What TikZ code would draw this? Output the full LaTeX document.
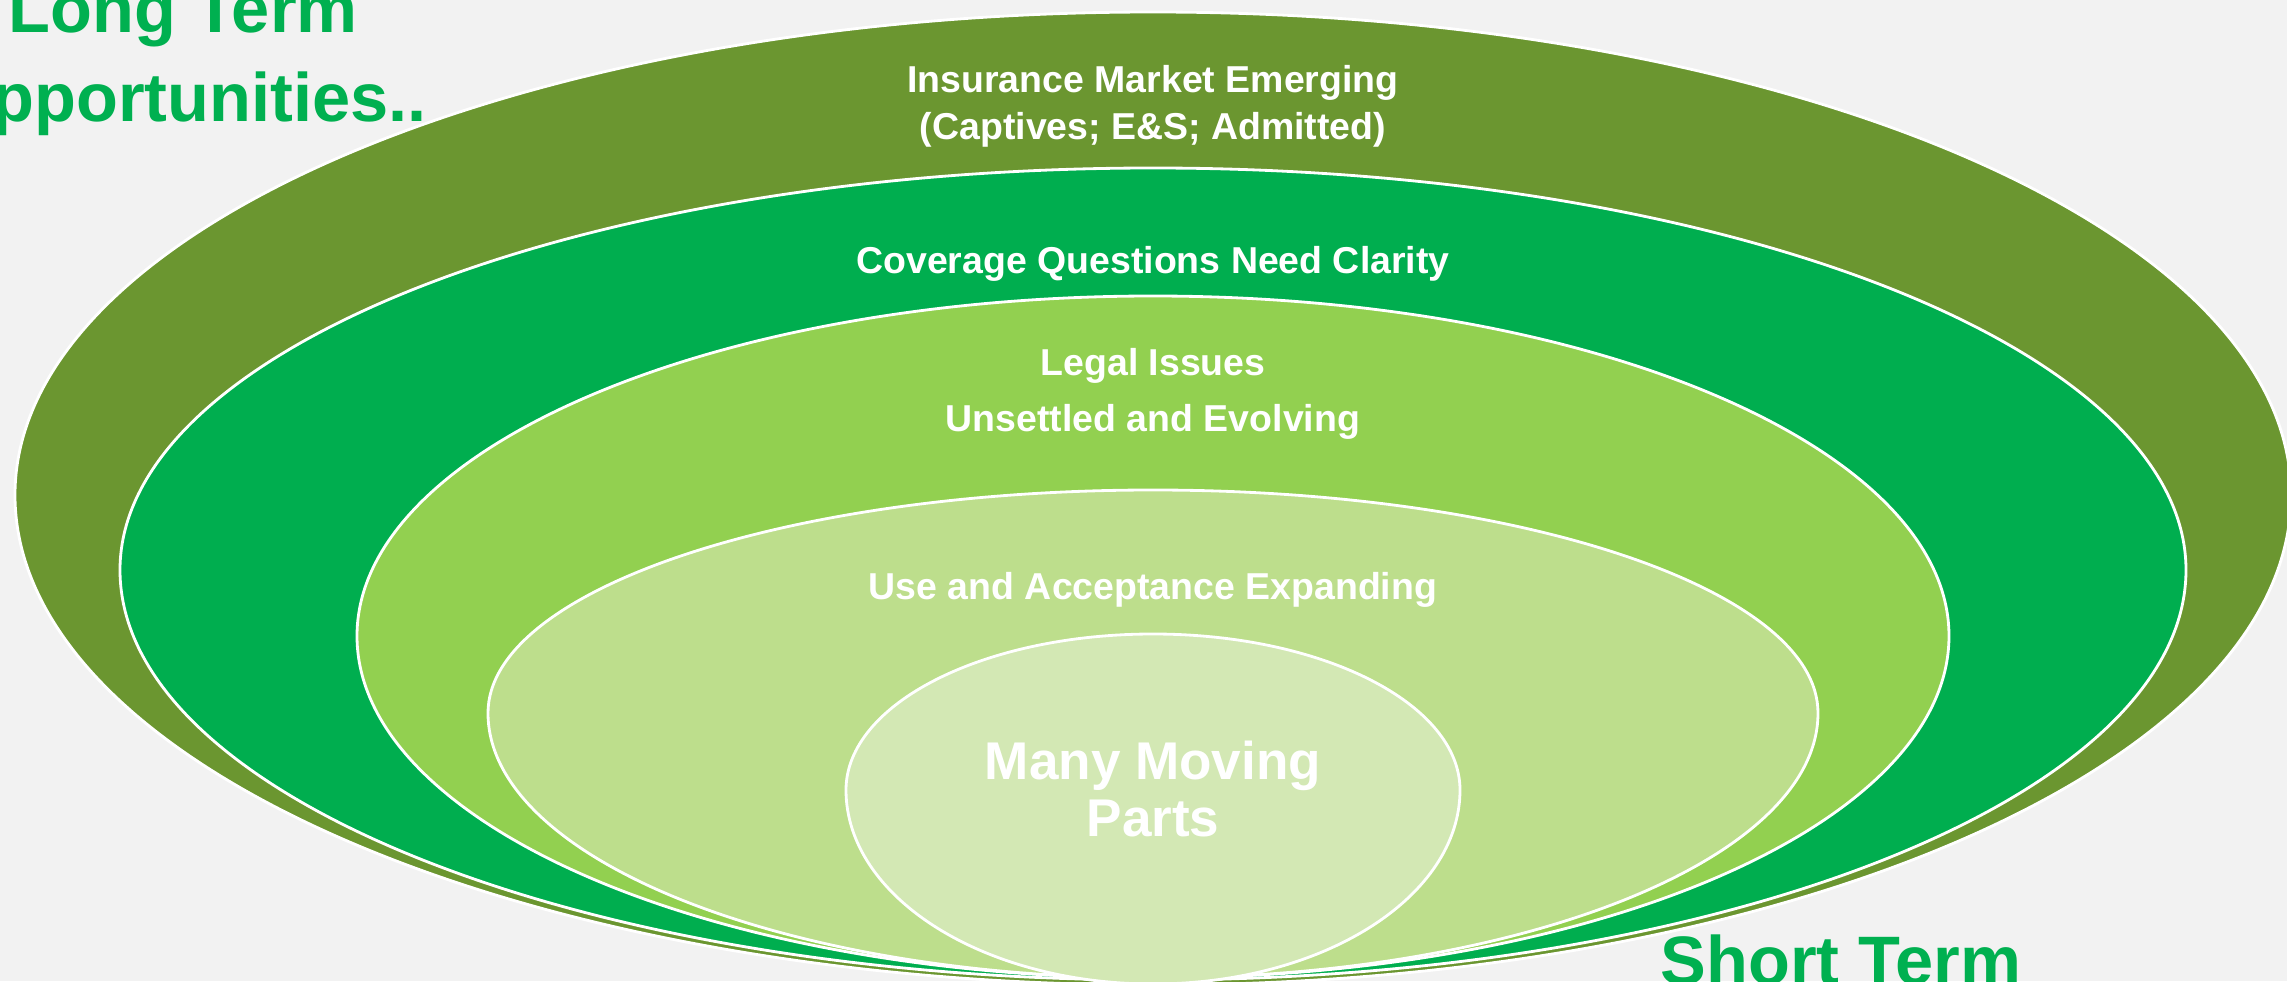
\documentclass[tikz,border=0pt]{standalone}
\usepackage{fontspec}
\setmainfont{Liberation Sans}
\definecolor{bgc}{HTML}{F2F2F2}
\definecolor{ringA}{HTML}{6B9630}
\definecolor{ringB}{HTML}{00AE4F}
\definecolor{ringC}{HTML}{92D050}
\definecolor{ringD}{HTML}{BDDE8C}
\definecolor{ringE}{HTML}{D3E8B4}
\definecolor{ttlgreen}{HTML}{00B050}
\begin{document}
\begin{tikzpicture}[x=0.01cm,y=0.01cm,
  ring/.style={draw=white,line width=0.8pt},
  lbl/.style={text=white,font=\bfseries\fontsize{10.65}{13}\selectfont,anchor=base,inner sep=0pt},
  big/.style={text=white,font=\bfseries\fontsize{15.1}{17}\selectfont,anchor=base,inner sep=0pt},
  ttl/.style={text=ttlgreen,font=\bfseries\fontsize{19.5}{25}\selectfont,anchor=base,inner sep=0pt}]
\useasboundingbox (0,0) rectangle (2287,981);
\clip (0,0) rectangle (2287,981);
\fill[bgc] (0,0) rectangle (2287,981);
% rings, outermost first
\path[ring,fill=ringA] (15,486) arc[start angle=180,end angle=0,x radius=1138,y radius=483]
  arc[start angle=0,end angle=-180,x radius=1138,y radius=490] -- cycle;
\path[ring,fill=ringB] (120,411) arc[start angle=180,end angle=0,x radius=1033,y radius=402]
  arc[start angle=0,end angle=-180,x radius=1033,y radius=410] -- cycle;
\path[ring,fill=ringC] (357,345) arc[start angle=180,end angle=0,x radius=796,y radius=340]
  arc[start angle=0,end angle=-180,x radius=796,y radius=342] -- cycle;
\path[ring,fill=ringD] (488,268) arc[start angle=180,end angle=0,x radius=665,y radius=223]
  arc[start angle=0,end angle=-180,x radius=665,y radius=265] -- cycle;
\path[ring,fill=ringE] (846,191) arc[start angle=180,end angle=0,x radius=307,y radius=156]
  arc[start angle=0,end angle=-180,x radius=307,y radius=194] -- cycle;
% labels
\node[lbl] (ins) at (1153,888) {Insurance Market Emerging};
\node[lbl] (cap) at (1153,841) {(Captives; E\&S; Admitted)};
\node[lbl] (cov) at (1153,707) {Coverage Questions Need Clarity};
\node[lbl] (leg) at (1153,605) {Legal Issues};
\node[lbl] (uns) at (1153,550) {Unsettled and Evolving};
\node[lbl] (use) at (1153,382) {Use and Acceptance Expanding};
\node[big] (many) at (1153,202) {Many Moving};
\node[big] (parts) at (1153,145) {Parts};
% titles
\node[ttl] (lt1) at (183,948) {Long Term};
\node[ttl] (lt2) at (183,859) {Opportunities..};
\node[ttl,anchor=base west] (st) at (1660,-3) {Short Term};
\end{tikzpicture}
\end{document}
